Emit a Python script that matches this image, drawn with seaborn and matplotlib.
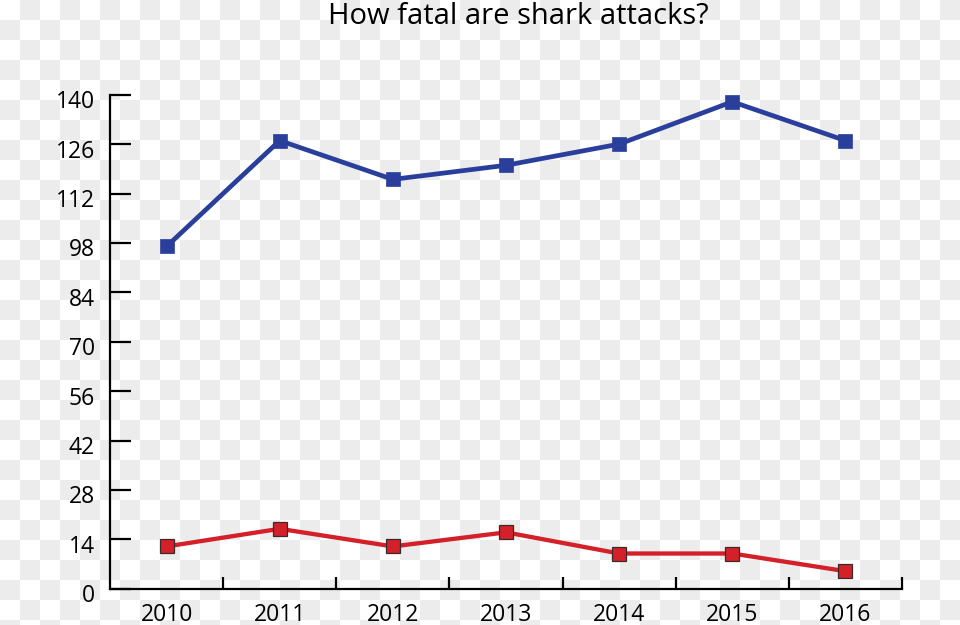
import numpy as np
import pandas as pd
import matplotlib
matplotlib.use("Agg")
import matplotlib.pyplot as plt
import matplotlib.transforms as mtransforms
import seaborn as sns

years = ["2010", "2011", "2012", "2013", "2014", "2015", "2016"]
total_attacks = [97, 127, 116, 120, 126, 138, 127]
fatal_attacks = [12, 17, 12, 16, 10, 10, 5]
y_ticks = [0, 14, 28, 42, 56, 70, 84, 98, 112, 126, 140]
title = "How fatal are shark attacks?"

sns.set_theme(style="white")
plt.rcParams["font.family"] = ["Open Sans", "DejaVu Sans"]

W, H = 960, 625
fig = plt.figure(figsize=(W / 100, H / 100), dpi=100)
fig.patch.set_facecolor("white")

# transparency checkerboard background
yy, xx = np.mgrid[0:H, 0:W]
checker = ((xx // 20 + yy // 20) % 2).astype(float)
bg = np.where(checker[..., None] == 1, 0xEC / 255, 1.0) * np.ones((H, W, 3))
fig.figimage(bg, xo=0, yo=0, origin="upper", zorder=0, resample=False)

ax = fig.add_axes([110 / W, 1 - 588.8 / H, (902 - 110) / W, (588.8 - 94.7) / H])
ax.set_facecolor("none")
ax.set_zorder(2)

df = pd.DataFrame({
    "pos": list(range(len(years))) * 2,
    "value": total_attacks + fatal_attacks,
    "series": ["Total"] * len(years) + ["Fatal"] * len(years),
})

blue = "#2a3f9c"
red = "#d42029"
sns.lineplot(data=df[df.series == "Total"], x="pos", y="value", ax=ax,
             color=blue, lw=3.4, marker="s", markersize=9.5,
             markeredgecolor=blue, markeredgewidth=0.5, legend=False)
sns.lineplot(data=df[df.series == "Fatal"], x="pos", y="value", ax=ax,
             color=red, lw=3.1, marker="s", markersize=9.5,
             markeredgecolor="#3a2a2a", markeredgewidth=0.9, legend=False)

ax.set_xlim(-0.5, len(years) - 0.5)
ax.set_ylim(0, 140)
ax.set_xlabel("")
ax.set_ylabel("")

for s in ["top", "right"]:
    ax.spines[s].set_visible(False)
for s in ["left", "bottom"]:
    ax.spines[s].set_color("black")
    ax.spines[s].set_linewidth(1.6)

ax.set_yticks(y_ticks)
ax.set_yticklabels([str(v) for v in y_ticks])
ax.tick_params(axis="y", direction="in", length=15, width=1.6, color="black",
               labelsize=16.5, pad=11, labelcolor="black", left=True)
offset = mtransforms.ScaledTranslation(0, -0.045, fig.dpi_scale_trans)
for lbl in ax.get_yticklabels():
    lbl.set_transform(lbl.get_transform() + offset)

ax.set_xticks(np.arange(len(years)) + 0.5)
ax.set_xticklabels([""] * len(years))
ax.set_xticks(np.arange(len(years)), minor=True)
ax.set_xticklabels(years, minor=True)
ax.tick_params(axis="x", which="major", direction="in", length=9, width=1.6,
               color="black", bottom=True)
ax.tick_params(axis="x", which="minor", length=0, labelsize=16.5, pad=10,
               labelcolor="black", bottom=True)

t = fig.text(518 / W, 1 - 16 / H, title, ha="center", va="center",
             fontsize=21, color="black")
t.set_zorder(3)

fig.savefig("out.png", dpi=100)
